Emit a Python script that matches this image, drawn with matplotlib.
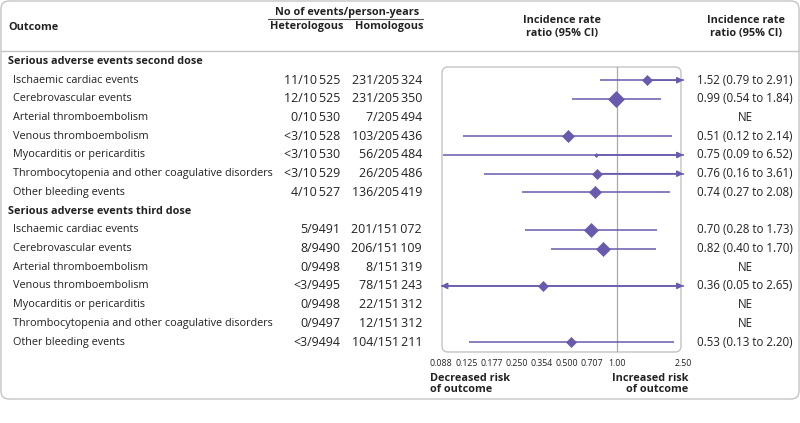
import matplotlib.pyplot as plt
from matplotlib.patches import FancyBboxPatch

plt.rcParams['font.family'] = ['Open Sans', 'DejaVu Sans']

# data
sections = ['Serious adverse events second dose', 'Serious adverse events third dose']
outcomes = ['Ischaemic cardiac events', 'Cerebrovascular events', 'Arterial thromboembolism',
            'Venous thromboembolism', 'Myocarditis or pericarditis',
            'Thrombocytopenia and other coagulative disorders', 'Other bleeding events']
hetero_2 = ['11/10\u2009525', '12/10\u2009525', '0/10\u2009530', '<3/10\u2009528', '<3/10\u2009530', '<3/10\u2009529', '4/10\u2009527']
homo_2 = ['231/205\u2009324', '231/205\u2009350', '7/205\u2009494', '103/205\u2009436', '56/205\u2009484', '26/205\u2009486', '136/205\u2009419']
hetero_3 = ['5/9491', '8/9490', '0/9498', '<3/9495', '0/9498', '0/9497', '<3/9494']
homo_3 = ['201/151\u2009072', '206/151\u2009109', '8/151\u2009319', '78/151\u2009243', '22/151\u2009312', '12/151\u2009312', '104/151\u2009211']
irr_2 = [1.52, 0.99, None, 0.51, 0.75, 0.76, 0.74]
lo_2 = [0.79, 0.54, None, 0.12, 0.09, 0.16, 0.27]
hi_2 = [2.91, 1.84, None, 2.14, 6.52, 3.61, 2.08]
irr_3 = [0.70, 0.82, None, 0.36, None, None, 0.53]
lo_3 = [0.28, 0.40, None, 0.05, None, None, 0.13]
hi_3 = [1.73, 1.70, None, 2.65, None, None, 2.20]
# relative weight of each estimate (diamond size)
weight_2 = [8, 12, 0, 8.5, 3, 7, 9]
weight_3 = [11, 11.5, 0, 8, 0, 0, 8]
ticks = [0.088, 0.125, 0.177, 0.250, 0.354, 0.500, 0.707, 1.00, 2.50]
tick_labels = ['0.088', '0.125', '0.177', '0.250', '0.354', '0.500', '0.707', '1.00', '2.50']

purple = '#6a5aad'
grey = '#c4c4c4'
txt = '#222222'
fs = 7.8      # words
fn = 8.9      # count columns
fr = 8.3      # ratio column

fig = plt.figure(figsize=(8, 4.23), dpi=100)
bg = fig.add_axes([0, 0, 1, 1])
bg.set_xlim(0, 800)
bg.set_ylim(423, 0)
bg.axis('off')

# outer rounded frame and header rule
bg.add_patch(FancyBboxPatch((1, 1), 798, 398, boxstyle='round,pad=0,rounding_size=8',
                            fc='none', ec=grey, lw=1))
bg.plot([1, 799], [51, 51], color=grey, lw=1)

# header
bg.text(8, 27, 'Outcome', fontsize=fs, fontweight='bold', va='center', color=txt)
bg.text(347, 13, 'No of events/person-years', fontsize=fs, fontweight='bold', ha='center', va='center', color=txt)
bg.plot([268, 423], [19.5, 19.5], color='#555555', lw=0.8)
bg.text(343, 27, 'Heterologous', fontsize=fs, fontweight='bold', ha='right', va='center', color=txt)
bg.text(423, 27, 'Homologous', fontsize=fs, fontweight='bold', ha='right', va='center', color=txt)
bg.text(562, 27, 'Incidence rate\nratio (95% CI)', fontsize=fs, fontweight='bold', ha='center', va='center',
        color=txt, linespacing=1.3)
bg.text(746, 27, 'Incidence rate\nratio (95% CI)', fontsize=fs, fontweight='bold', ha='center', va='center',
        color=txt, linespacing=1.3)


def row_y(k):
    return 61.5 + 18.7 * k


# forest axes (log scale, 1.00 at x=617 px)
x0, x1, top, bot = 441, 683.5, 67, 352
ax = fig.add_axes([x0 / 800, (423 - bot) / 423, (x1 - x0) / 800, (bot - top) / 423])
ax.patch.set_alpha(0)
ax.set_xscale('log')
xmin, xmax = 0.088, 2.5
ax.set_xlim(xmin, xmax)
ax.set_ylim((bot - 61.5) / 18.7, (top - 61.5) / 18.7)
for sp in ax.spines.values():
    sp.set_visible(False)
ax.set_yticks([])
ax.set_xticks(ticks)
ax.set_xticklabels(tick_labels)
ax.minorticks_off()
ax.tick_params(axis='x', length=0, pad=5, labelsize=6.3, labelcolor=txt)
bg.add_patch(FancyBboxPatch((442, top), 239, bot - top, boxstyle='round,pad=0,rounding_size=6',
                            fc='none', ec=grey, lw=1))
ax.axvline(1.0, color='#aaaaaa', lw=0.9)

groups = [(hetero_2, homo_2, irr_2, lo_2, hi_2, weight_2),
          (hetero_3, homo_3, irr_3, lo_3, hi_3, weight_3)]
k = 0
for s, (het, hom, irr, lo, hi, w) in zip(sections, groups):
    bg.text(8, row_y(k), s, fontsize=fs, fontweight='bold', va='center', color=txt)
    k += 1
    for i, name in enumerate(outcomes):
        y = row_y(k)
        bg.text(13, y, name, fontsize=fs, va='center', color=txt)
        bg.text(340, y, het[i], fontsize=fn, va='center', ha='right', color=txt)
        bg.text(422, y, hom[i], fontsize=fn, va='center', ha='right', color=txt)
        if irr[i] is None:
            bg.text(745, y, 'NE', fontsize=fr, va='center', ha='center', color=txt)
        else:
            bg.text(745, y, f'{irr[i]:.2f} ({lo[i]:.2f} to {hi[i]:.2f})', fontsize=fr,
                    va='center', ha='center', color=txt)
            a = max(lo[i], xmin)
            b = min(hi[i], xmax)
            ax.plot([a, b], [k, k], color=purple, lw=1.1, solid_capstyle='butt')
            arr = dict(arrowstyle='-|>', color=purple, lw=1.1, mutation_scale=9, shrinkA=0, shrinkB=0)
            if hi[i] > xmax:
                ax.annotate('', xy=(xmax, k), xytext=(irr[i], k), arrowprops=arr)
            if lo[i] < xmin:
                ax.annotate('', xy=(xmin, k), xytext=(irr[i], k), arrowprops=arr)
            ax.plot(irr[i], k, marker='D', ms=w[i] * 0.66, color=purple, mec=purple, mew=0.5)
        k += 1

bg.text(430, 384, 'Decreased risk\nof outcome', fontsize=fs, fontweight='bold', ha='left', va='center',
        color=txt, linespacing=1.05)
bg.text(688, 384, 'Increased risk\nof outcome', fontsize=fs, fontweight='bold', ha='right', va='center',
        color=txt, linespacing=1.05)

fig.savefig('out.png', dpi=100)
